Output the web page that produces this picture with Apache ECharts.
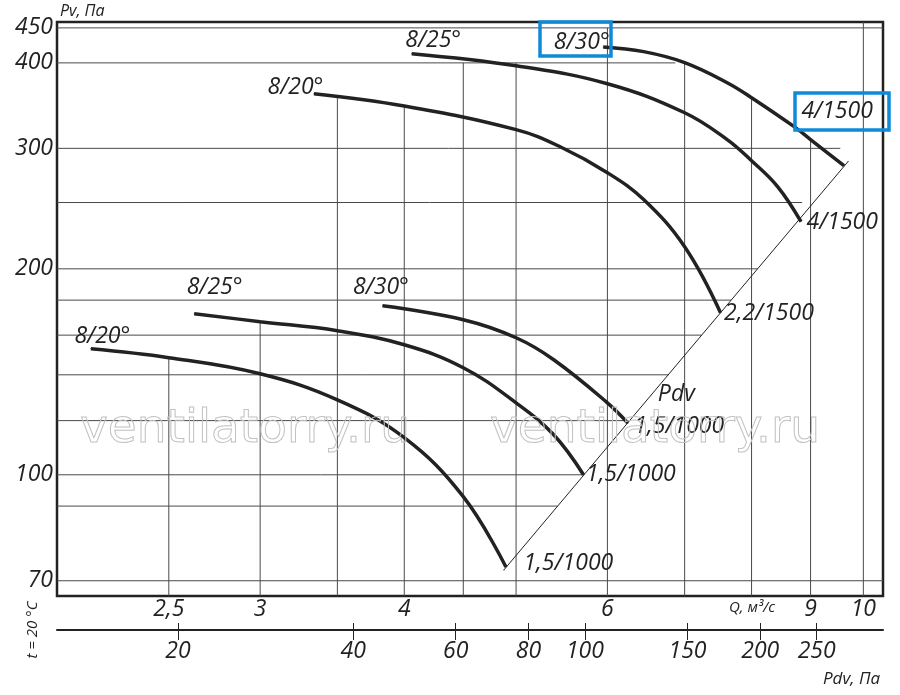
<!DOCTYPE html>
<html>
<head>
<meta charset="utf-8">
<script src="https://cdn.jsdelivr.net/npm/echarts@6/dist/echarts.min.js"></script>
<style>
  html, body { margin: 0; padding: 0; background: #fff; }
  #view { width: 900px; height: 695px; }
</style>
</head>
<body>
<div id="view"></div>
<script>
// axis ranges (log scales)
var qMin = 2, qMax = 10.4
var pMin = 66.5, pMax = 459
var pdvMin = 12.4, pdvMax = 325

// tick labels
var qTicks = [2.5, 3, 4, 6, 9, 10]
var pTicks = [70, 100, 200, 300, 400, 450]
var pdvTicks = [20, 40, 60, 80, 100, 150, 200, 250]

// grid lines of the drawing (they stop at the curves / Pdv line)
var qGrid = [2.5, 3, 3.5, 4, 4.5, 5, 6, 7, 8, 9, 10]
var qGridTop = [148, 167, 357, 346, 400, 400, 450, 400, 356, 309, 459]
var pGrid = [70, 90, 100, 120, 140, 160, 180, 200, 250, 300, 400, 450]
var pGridEnd = [10.4, 5.43, 5.73, 6.27, 6.78, 7.24, 7.68, 8.1, 8.85, 9.55, 6.87, 10.4]

// upper group, 1500 rpm
var qA20 = [3.34, 4.0, 5.0, 5.46, 6.0, 6.45, 7.0, 7.52]
var pA20 = [360.6, 346, 319.5, 301.6, 276.4, 252.5, 215.4, 172.5]
var qA25 = [4.06, 5.0, 6.0, 7.0, 7.62, 8.0, 8.43, 8.83]
var pA25 = [412.6, 396.2, 372.9, 338.2, 309, 287.8, 263.6, 234.4]
var qA30 = [5.95, 6.45, 7.0, 7.62, 8.0, 8.71, 9.0, 9.62]
var pA30 = [422, 415.4, 400.4, 374.2, 355.8, 322.7, 309, 283]

// lower group, 1000 rpm
var qB20 = [2.14, 2.5, 3.0, 3.5, 4.0, 4.5, 4.9]
var pB20 = [152.8, 148.3, 140.5, 128.7, 113.3, 92.9, 73.3]
var qB25 = [2.63, 3.0, 3.5, 4.0, 4.5, 5.0, 5.39, 5.72]
var pB25 = [172, 167.4, 162.4, 154.9, 143.4, 127.4, 114.4, 100]
var qB30 = [3.83, 4.5, 5.0, 5.39, 6.0, 6.25]
var pB30 = [176.6, 168.5, 158.6, 147.3, 127.4, 119]

// dynamic pressure line
var qDyn = [4.88, 6.55, 9.7]
var pDyn = [72.6, 130.9, 287]

var L = Math.log10
var ink = '#222'
var font = { color: ink, fontSize: 23, fontStyle: 'italic', fontFamily: 'Open Sans' }

function fmtQ (v) {
    var n = Math.round(Math.pow(10, v) * 10) / 10
    return String(n).replace('.', ',')
}
function fmtInt (v) {
    return String(Math.round(Math.pow(10, v)))
}
function pts (q, p) {
    return q.map(function (v, i) { return [L(v), L(p[i])] })
}

function curve (q, p, startText, startPos, startOff, endText, endOff) {
    var d = pts(q, p).map(function (v) { return { value: v } })
    d[0].label = { show: true, formatter: startText, position: startPos, distance: 0, offset: startOff }
    d[d.length - 1].label = { show: true, formatter: endText, position: 'right', distance: 0, offset: endOff }
    return {
        type: 'line', data: d, smooth: 0.4,
        symbol: 'circle', symbolSize: 1, showSymbol: true,
        lineStyle: { width: 3.5, color: ink }, itemStyle: { color: ink },
        label: Object.assign({ show: false }, font),
        z: 5, silent: true
    }
}

var series = []
// vertical grid lines
qGrid.forEach(function (q, i) {
    series.push({
        type: 'line', data: [[L(q), L(pMin)], [L(q), L(qGridTop[i])]],
        symbol: 'none', lineStyle: { width: 1, color: '#4a4a4a' }, z: 2, silent: true
    })
})
// horizontal grid lines
pGrid.forEach(function (p, i) {
    series.push({
        type: 'line', data: [[L(qMin), L(p)], [L(pGridEnd[i]), L(p)]],
        symbol: 'none', lineStyle: { width: 1, color: '#4a4a4a' }, z: 2, silent: true
    })
})

series.push(curve(qA20, pA20, '8/20°', 'left', [10, -6], '2,2/1500', [3, 1]))
series.push(curve(qA25, pA25, '8/25°', 'right', [-7, -13], '4/1500', [5, 1]))
series.push(curve(qA30, pA30, '8/30°', 'left', [7, -5], '4/1500', [-43, -54]))
series.push(curve(qB20, pB20, '8/20°', 'right', [-17, -12], '1,5/1000', [17, -4]))
series.push(curve(qB25, pB25, '8/25°', 'right', [-8, -26], '1,5/1000', [2, 0]))
series.push(curve(qB30, pB30, '8/30°', 'right', [-30, -18], '1,5/1000', [6, 3]))

var dyn = pts(qDyn, pDyn).map(function (v) { return { value: v } })
dyn[1].label = { show: true, formatter: 'Pdv', position: 'right', distance: 0, offset: [6, 0] }
series.push({
    type: 'line', data: dyn, symbol: 'circle', symbolSize: 1, showSymbol: true,
    lineStyle: { width: 1, color: ink }, itemStyle: { color: ink },
    label: Object.assign({ show: false }, font), z: 4, silent: true
})

var mychart = echarts.init(document.getElementById('view'), null, { renderer: 'canvas' })
var options = {
    animation: false,
    backgroundColor: '#fff',
    grid: [
        { left: 57, right: 17, top: 22, bottom: 99, show: true, borderColor: ink, borderWidth: 2.5 },
        { left: 57, right: 17, top: 629, height: 1 }
    ],
    xAxis: [
        {
            gridIndex: 0, type: 'value', min: L(qMin), max: L(qMax),
            axisLine: { show: false }, axisTick: { show: false }, splitLine: { show: false },
            axisLabel: Object.assign({ customValues: qTicks.map(L), formatter: fmtQ, margin: 2 }, font)
        },
        {
            gridIndex: 1, type: 'value', position: 'bottom', min: L(pdvMin), max: L(pdvMax),
            axisLine: { show: true, lineStyle: { color: ink, width: 2 } },
            axisTick: { show: true, customValues: pdvTicks.map(L), length: 10, lineStyle: { color: ink, width: 1 } },
            splitLine: { show: false },
            axisLabel: Object.assign({ customValues: pdvTicks.map(L), formatter: fmtInt, margin: 10 }, font)
        },
        {
            gridIndex: 1, type: 'value', position: 'top', min: L(pdvMin), max: L(pdvMax),
            axisLine: { show: false },
            axisTick: { show: true, customValues: pdvTicks.map(L), length: 6, lineStyle: { color: ink, width: 1 } },
            splitLine: { show: false }, axisLabel: { show: false }
        }
    ],
    yAxis: [
        {
            gridIndex: 0, type: 'value', min: L(pMin), max: L(pMax),
            axisLine: { show: false }, axisTick: { show: false }, splitLine: { show: false },
            axisLabel: Object.assign({ customValues: pTicks.map(L), formatter: fmtInt, margin: 4 }, font)
        },
        { gridIndex: 1, type: 'value', show: false }
    ],
    series: series,
    graphic: [
        { type: 'text', x: 60, y: 11, z: 10, style: { text: 'Pv, Па', fill: ink, fontSize: 16, fontStyle: 'italic', fontFamily: 'Open Sans', textVerticalAlign: 'middle' } },
        { type: 'text', x: 729, y: 608, z: 10, style: { text: 'Q, м³/с', fill: ink, fontSize: 15, fontStyle: 'italic', fontFamily: 'Open Sans', textVerticalAlign: 'middle' } },
        { type: 'text', x: 823, y: 679, z: 10, style: { text: 'Pdv, Па', fill: ink, fontSize: 17, fontStyle: 'italic', fontFamily: 'Open Sans', textVerticalAlign: 'middle' } },
        { type: 'text', x: 33, y: 630, rotation: Math.PI / 2, z: 10, style: { text: 't = 20 °C', fill: ink, fontSize: 15, fontStyle: 'italic', fontFamily: 'Open Sans', textAlign: 'center', textVerticalAlign: 'middle' } },
        // watermark
        { type: 'text', x: 80, y: 430, z: 20, style: { text: 'ventilatorry.ru', fill: 'rgba(255,255,255,0)', stroke: '#c2c2c2', lineWidth: 1, fontSize: 47, fontFamily: 'DejaVu Sans', textVerticalAlign: 'middle' } },
        { type: 'text', x: 490, y: 430, z: 20, style: { text: 'ventilatorry.ru', fill: 'rgba(255,255,255,0)', stroke: '#c2c2c2', lineWidth: 1, fontSize: 47, fontFamily: 'DejaVu Sans', textVerticalAlign: 'middle' } },
        // blue highlight boxes
        { type: 'rect', z: 30, shape: { x: 540, y: 22, width: 71, height: 34 }, style: { fill: 'none', stroke: '#0f8ad9', lineWidth: 3.5 } },
        { type: 'rect', z: 30, shape: { x: 795, y: 93, width: 94, height: 37 }, style: { fill: 'none', stroke: '#0f8ad9', lineWidth: 3.5 } }
    ]
}
mychart.setOption(options)
</script>
</body>
</html>
